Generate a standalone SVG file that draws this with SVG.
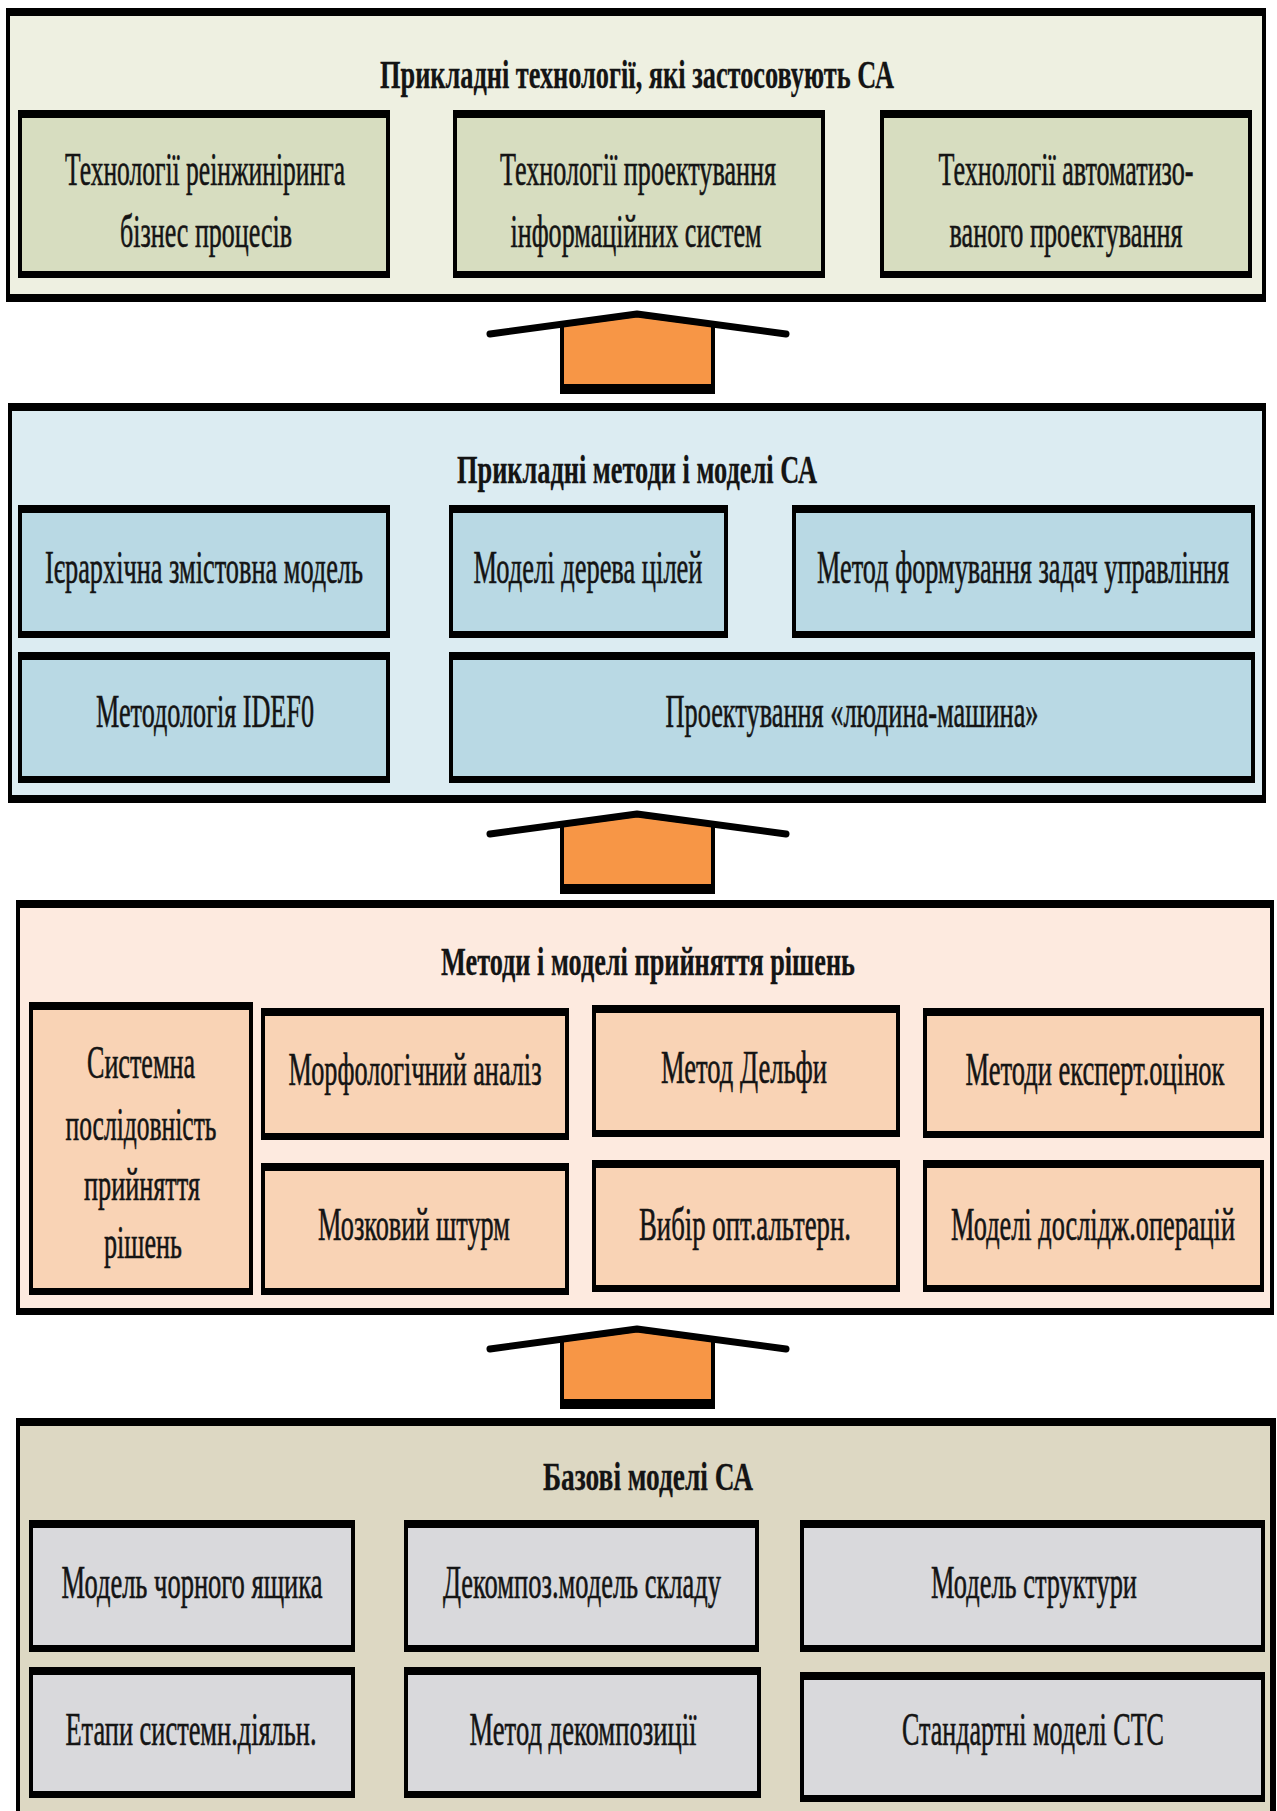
<svg xmlns="http://www.w3.org/2000/svg" xmlns:xlink="http://www.w3.org/1999/xlink" width="1277" height="1811" viewBox="0 0 1277 1811">
<style>
.bk{fill:#000}
.p1{fill:#eef0e1}.b1{fill:#d7ddc0}
.p2{fill:#dcecf2}.b2{fill:#b9d9e4}
.p3{fill:#fdeadf}.b3{fill:#f9d3b5}
.p4{fill:#ddd8c3}.b4{fill:#d9d9dc}
text{font-family:"Liberation Serif","Times New Roman",serif;fill:#141414;text-anchor:middle;stroke:#141414;stroke-width:0.6}
.t{font-size:46px}
.h{font-size:40px;font-weight:bold;stroke-width:0.3}
</style>
<defs>
<g id="arrow">
<path d="M562,392 V325 L637,315 L713,325 V392 Z" fill="#f79646" stroke="#000" stroke-width="4"/>
<rect x="560" y="384" width="155" height="8" fill="#000"/>
<polyline points="490,334 637,314 786,334" fill="none" stroke="#000" stroke-width="7" stroke-linecap="round" stroke-linejoin="round"/>
</g>
</defs>
<rect width="1277" height="1811" fill="#fff"/>

<!-- Panel 1 -->
<g id="panel1">
<rect class="bk" x="6" y="8" width="1260" height="294"/>
<rect class="p1" x="10" y="16" width="1252" height="278"/>
<text class="h" transform="scale(0.5,1)" x="1274" y="88" textLength="1028" lengthAdjust="spacingAndGlyphs">Прикладні технології, які застосовують СА</text>
</g>
<g id="p1b1">
<rect class="bk" x="18" y="110" width="372" height="168"/>
<rect class="b1" x="22" y="118" width="364" height="153"/>
<text class="t" transform="scale(0.5,1)" x="410" y="185" textLength="560" lengthAdjust="spacingAndGlyphs">Технології реінжиніринга</text>
<text class="t" transform="scale(0.5,1)" x="412" y="247" textLength="344" lengthAdjust="spacingAndGlyphs">бізнес процесів</text>
</g>
<g id="p1b2">
<rect class="bk" x="453" y="110" width="372" height="168"/>
<rect class="b1" x="457" y="118" width="364" height="153"/>
<text class="t" transform="scale(0.5,1)" x="1276" y="185" textLength="552" lengthAdjust="spacingAndGlyphs">Технології проектування</text>
<text class="t" transform="scale(0.5,1)" x="1272" y="247" textLength="502" lengthAdjust="spacingAndGlyphs">інформаційних систем</text>
</g>
<g id="p1b3">
<rect class="bk" x="880" y="110" width="372" height="168"/>
<rect class="b1" x="884" y="118" width="364" height="153"/>
<text class="t" transform="scale(0.5,1)" x="2132" y="185" textLength="510" lengthAdjust="spacingAndGlyphs">Технології автоматизо-</text>
<text class="t" transform="scale(0.5,1)" x="2132" y="247" textLength="466" lengthAdjust="spacingAndGlyphs">ваного проектування</text>
</g>

<!-- Panel 2 -->
<g id="panel2">
<rect class="bk" x="8" y="403" width="1258" height="400"/>
<rect class="p2" x="12" y="411" width="1250" height="384"/>
<text class="h" transform="scale(0.5,1)" x="1274" y="483" textLength="720" lengthAdjust="spacingAndGlyphs">Прикладні методи і моделі СА</text>
</g>
<g id="p2b1">
<rect class="bk" x="18" y="505" width="372" height="133"/>
<rect class="b2" x="22" y="513" width="364" height="118"/>
<text class="t" transform="scale(0.5,1)" x="408" y="583" textLength="636" lengthAdjust="spacingAndGlyphs">Ієрархічна змістовна модель</text>
</g>
<g id="p2b2">
<rect class="bk" x="449" y="505" width="279" height="133"/>
<rect class="b2" x="453" y="513" width="271" height="118"/>
<text class="t" transform="scale(0.5,1)" x="1176" y="583" textLength="458" lengthAdjust="spacingAndGlyphs">Моделі дерева цілей</text>
</g>
<g id="p2b3">
<rect class="bk" x="792" y="505" width="463" height="133"/>
<rect class="b2" x="796" y="513" width="455" height="118"/>
<text class="t" transform="scale(0.5,1)" x="2046" y="583" textLength="824" lengthAdjust="spacingAndGlyphs">Метод формування задач управління</text>
</g>
<g id="p2b4">
<rect class="bk" x="18" y="652" width="372" height="131"/>
<rect class="b2" x="22" y="660" width="364" height="116"/>
<text class="t" transform="scale(0.5,1)" x="410" y="727" textLength="436" lengthAdjust="spacingAndGlyphs">Методологія IDEF0</text>
</g>
<g id="p2b5">
<rect class="bk" x="449" y="652" width="806" height="131"/>
<rect class="b2" x="453" y="660" width="798" height="116"/>
<text class="t" transform="scale(0.5,1)" x="1704" y="727" textLength="746" lengthAdjust="spacingAndGlyphs">Проектування «людина-машина»</text>
</g>

<!-- Panel 3 -->
<g id="panel3">
<rect class="bk" x="16" y="900" width="1258" height="415"/>
<rect class="p3" x="20" y="908" width="1250" height="400"/>
<text class="h" transform="scale(0.5,1)" x="1296" y="975" textLength="828" lengthAdjust="spacingAndGlyphs">Методи і моделі прийняття рішень</text>
</g>
<g id="p3b0">
<rect class="bk" x="29" y="1002" width="224" height="293"/>
<rect class="b3" x="33" y="1010" width="216" height="278"/>
<text class="t" transform="scale(0.5,1)" x="282" y="1078" textLength="216" lengthAdjust="spacingAndGlyphs">Системна</text>
<text class="t" transform="scale(0.5,1)" x="282" y="1140" textLength="302" lengthAdjust="spacingAndGlyphs">послідовність</text>
<text class="t" transform="scale(0.5,1)" x="284" y="1200" textLength="232" lengthAdjust="spacingAndGlyphs">прийняття</text>
<text class="t" transform="scale(0.5,1)" x="286" y="1258" textLength="156" lengthAdjust="spacingAndGlyphs">рішень</text>
</g>
<g id="p3b1">
<rect class="bk" x="261" y="1008" width="308" height="132"/>
<rect class="b3" x="265" y="1016" width="300" height="117"/>
<text class="t" transform="scale(0.5,1)" x="830" y="1085" textLength="506" lengthAdjust="spacingAndGlyphs">Морфологічний аналіз</text>
</g>
<g id="p3b2">
<rect class="bk" x="261" y="1163" width="308" height="132"/>
<rect class="b3" x="265" y="1171" width="300" height="117"/>
<text class="t" transform="scale(0.5,1)" x="828" y="1240" textLength="384" lengthAdjust="spacingAndGlyphs">Мозковий штурм</text>
</g>
<g id="p3b3">
<rect class="bk" x="592" y="1005" width="308" height="132"/>
<rect class="b3" x="596" y="1013" width="300" height="117"/>
<text class="t" transform="scale(0.5,1)" x="1488" y="1083" textLength="332" lengthAdjust="spacingAndGlyphs">Метод Дельфи</text>
</g>
<g id="p3b4">
<rect class="bk" x="592" y="1160" width="308" height="132"/>
<rect class="b3" x="596" y="1168" width="300" height="117"/>
<text class="t" transform="scale(0.5,1)" x="1490" y="1240" textLength="424" lengthAdjust="spacingAndGlyphs">Вибір опт.альтерн.</text>
</g>
<g id="p3b5">
<rect class="bk" x="923" y="1008" width="341" height="130"/>
<rect class="b3" x="927" y="1016" width="333" height="115"/>
<text class="t" transform="scale(0.5,1)" x="2190" y="1085" textLength="518" lengthAdjust="spacingAndGlyphs">Методи експерт.оцінок</text>
</g>
<g id="p3b6">
<rect class="bk" x="923" y="1160" width="341" height="132"/>
<rect class="b3" x="927" y="1168" width="333" height="117"/>
<text class="t" transform="scale(0.5,1)" x="2186" y="1240" textLength="568" lengthAdjust="spacingAndGlyphs">Моделі дослідж.операцій</text>
</g>

<!-- Panel 4 -->
<g id="panel4">
<rect class="bk" x="16" y="1418" width="1260" height="420"/>
<rect class="p4" x="20" y="1426" width="1250" height="400"/>
<text class="h" transform="scale(0.5,1)" x="1296" y="1490" textLength="420" lengthAdjust="spacingAndGlyphs">Базові моделі СА</text>
</g>
<g id="p4b1">
<rect class="bk" x="29" y="1520" width="326" height="132"/>
<rect class="b4" x="33" y="1528" width="318" height="117"/>
<text class="t" transform="scale(0.5,1)" x="384" y="1598" textLength="522" lengthAdjust="spacingAndGlyphs">Модель чорного ящика</text>
</g>
<g id="p4b2">
<rect class="bk" x="404" y="1520" width="355" height="132"/>
<rect class="b4" x="408" y="1528" width="347" height="117"/>
<text class="t" transform="scale(0.5,1)" x="1164" y="1598" textLength="556" lengthAdjust="spacingAndGlyphs">Декомпоз.модель складу</text>
</g>
<g id="p4b3">
<rect class="bk" x="800" y="1520" width="465" height="132"/>
<rect class="b4" x="804" y="1528" width="457" height="117"/>
<text class="t" transform="scale(0.5,1)" x="2068" y="1598" textLength="412" lengthAdjust="spacingAndGlyphs">Модель структури</text>
</g>
<g id="p4b4">
<rect class="bk" x="29" y="1667" width="326" height="131"/>
<rect class="b4" x="33" y="1675" width="318" height="116"/>
<text class="t" transform="scale(0.5,1)" x="382" y="1745" textLength="502" lengthAdjust="spacingAndGlyphs">Етапи системн.діяльн.</text>
</g>
<g id="p4b5">
<rect class="bk" x="404" y="1667" width="357" height="131"/>
<rect class="b4" x="408" y="1675" width="349" height="116"/>
<text class="t" transform="scale(0.5,1)" x="1166" y="1745" textLength="454" lengthAdjust="spacingAndGlyphs">Метод декомпозиції</text>
</g>
<g id="p4b6">
<rect class="bk" x="800" y="1672" width="465" height="130"/>
<rect class="b4" x="804" y="1680" width="457" height="115"/>
<text class="t" transform="scale(0.5,1)" x="2066" y="1745" textLength="524" lengthAdjust="spacingAndGlyphs">Стандартні моделі СТС</text>
</g>

<!-- Connectors -->
<g id="connectors">
<use href="#arrow" xlink:href="#arrow"/>
<use href="#arrow" xlink:href="#arrow" transform="translate(0,500)"/>
<use href="#arrow" xlink:href="#arrow" transform="translate(0,1015)"/>
</g>
</svg>
